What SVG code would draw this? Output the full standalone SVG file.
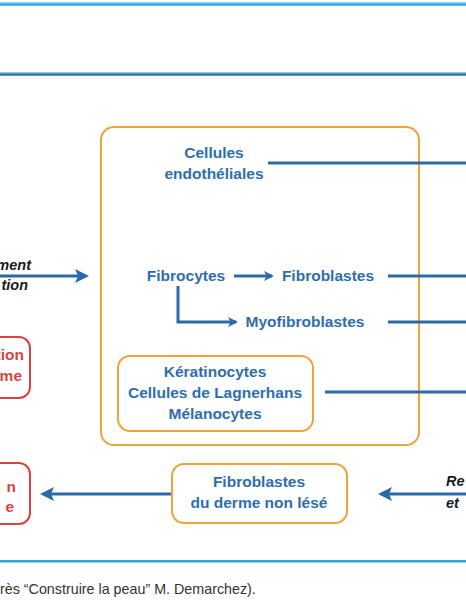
<svg xmlns="http://www.w3.org/2000/svg" width="466" height="600" viewBox="0 0 466 600">
<style>
.bt{font-family:"Liberation Sans",Arial,sans-serif;font-weight:bold;font-size:15.5px;fill:#2e6ead;text-anchor:middle}
.rt{font-family:"Liberation Sans",Arial,sans-serif;font-weight:bold;font-size:15.5px;fill:#d8453f;text-anchor:end}
.it{font-family:"Liberation Sans",Arial,sans-serif;font-weight:bold;font-style:italic;font-size:14.5px;fill:#1a1a1a}
.ob{fill:#fff;stroke:#f0a33a;stroke-width:2}
.rb{fill:#fff;stroke:#d8453f;stroke-width:2}
.ln{stroke:#2a6aa8;stroke-width:3;fill:none}
.cap{font-family:"Liberation Sans",Arial,sans-serif;font-size:14.3px;fill:#333}
</style>
<defs>
<marker id="ah" markerWidth="10" markerHeight="10" refX="8" refY="5" orient="auto" markerUnits="userSpaceOnUse" viewBox="0 0 10 10">
<path d="M0,0 L10,5 L0,10 L2.5,5 Z" fill="#2a6aa8"/>
</marker>
<marker id="ahb" markerWidth="14" markerHeight="14" refX="11" refY="7" orient="auto" markerUnits="userSpaceOnUse" viewBox="0 0 14 14">
<path d="M0,0 L14,7 L0,14 L3,7 Z" fill="#2a6aa8"/>
</marker>
</defs>
<rect width="466" height="600" fill="#fff"/>
<g id="frame">
<rect x="0" y="2" width="466" height="4" fill="#8fd3ee"/>
<rect x="0" y="3.5" width="466" height="2" fill="#2fa8da"/>
<rect x="0" y="72" width="466" height="4" fill="#8ccbe6"/>
<rect x="0" y="73.5" width="466" height="2" fill="#2a6d9c"/>
<rect x="0" y="560" width="466" height="2.5" fill="#2fa8da"/>
</g>
<g id="main-box">
<rect class="ob" x="101" y="127" width="318" height="318" rx="13"/>
</g>
<g id="connectors">
<line class="ln" x1="268" y1="163" x2="466" y2="163"/>
<line class="ln" x1="388" y1="276" x2="466" y2="276"/>
<line class="ln" x1="388" y1="322" x2="466" y2="322"/>
<line class="ln" x1="325" y1="392" x2="466" y2="392"/>
<line class="ln" x1="0" y1="276" x2="86" y2="276" marker-end="url(#ahb)"/>
<line class="ln" x1="234" y1="276" x2="272" y2="276" stroke-width="2.5" marker-end="url(#ah)"/>
<polyline class="ln" points="178,286 178,322 236,322" stroke-width="2.5" marker-end="url(#ah)"/>
<line class="ln" x1="172" y1="494" x2="43" y2="494" marker-end="url(#ahb)"/>
<line class="ln" x1="466" y1="494" x2="381" y2="494" marker-end="url(#ahb)"/>
</g>
<g id="endo">
<text class="bt" x="214" y="158">Cellules</text>
<text class="bt" x="214" y="179">endothéliales</text>
</g>
<g id="fibrocytes"><text class="bt" x="186" y="281">Fibrocytes</text></g>
<g id="fibroblastes"><text class="bt" x="328" y="281">Fibroblastes</text></g>
<g id="myofibroblastes"><text class="bt" x="305" y="327">Myofibroblastes</text></g>
<g id="epi">
<rect class="ob" x="118" y="356" width="195" height="75" rx="12"/>
<text class="bt" x="215" y="377">Kératinocytes</text>
<text class="bt" x="215" y="398">Cellules de Lagnerhans</text>
<text class="bt" x="215" y="419">Mélanocytes</text>
</g>
<g id="derme">
<rect class="ob" x="172" y="464" width="175" height="59" rx="12"/>
<text class="bt" x="259" y="487">Fibroblastes</text>
<text class="bt" x="259" y="508">du derme non lésé</text>
</g>
<g id="left-label">
<text class="it" x="31" y="270" text-anchor="end">ment</text>
<text class="it" x="28" y="290" text-anchor="end">tion</text>
</g>
<g id="red1">
<rect class="rb" x="-20" y="337" width="50" height="61" rx="11"/>
<text class="rt" x="24" y="360">tion</text>
<text class="rt" x="22" y="381">me</text>
</g>
<g id="red2">
<rect class="rb" x="-20" y="463" width="50" height="61" rx="11"/>
<text class="rt" x="16" y="492">n</text>
<text class="rt" x="14" y="512">e</text>
</g>
<g id="right-label">
<text class="it" x="446" y="486">Re</text>
<text class="it" x="446" y="508">et</text>
</g>
<g id="caption">
<text class="cap" x="0" y="594">rès “Construire la peau” M. Demarchez).</text>
</g>
</svg>
